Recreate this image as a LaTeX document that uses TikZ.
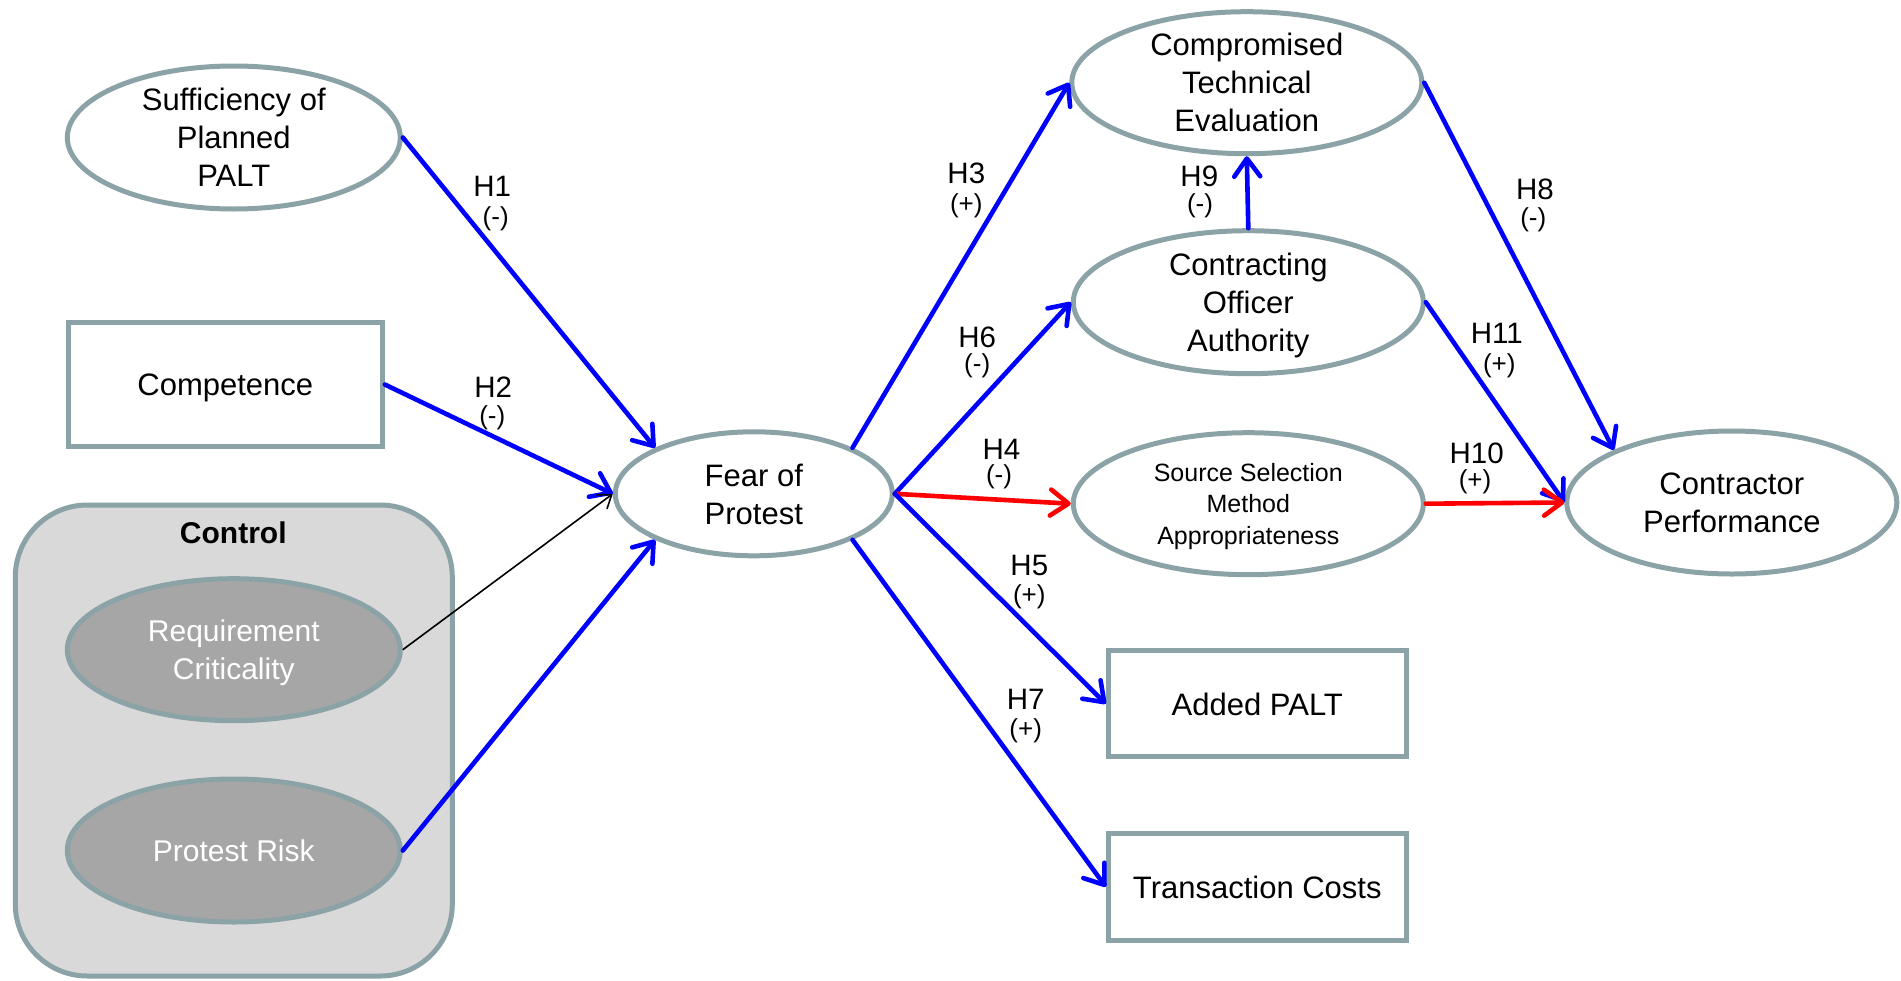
\documentclass[tikz,border=0pt]{standalone}
\usepackage{fontspec}
\setmainfont{Liberation Sans}
\usetikzlibrary{shapes.geometric,arrows.meta}
\definecolor{bordergray}{RGB}{139,163,167}
\definecolor{ctrlbg}{RGB}{217,217,217}
\definecolor{ctrlell}{RGB}{166,166,166}
\definecolor{arrblue}{RGB}{0,0,255}
\definecolor{arrred}{RGB}{255,0,0}
\begin{document}
\begin{tikzpicture}[x=1pt,y=-1pt,
  oval/.style={ellipse, draw=bordergray, line width=5pt, fill=white, inner sep=0pt},
  boxn/.style={rectangle, draw=bordergray, line width=5pt, fill=white, inner sep=0pt},
  lbl/.style={align=center, inner sep=0pt, text depth=0pt, font=\fontsize{31}{38}\selectfont},
  smalllbl/.style={align=center, inner sep=0pt, text depth=0pt, font=\fontsize{25}{31.5}\selectfont},
  ctrllbl/.style={align=center, inner sep=0pt, text depth=0pt, text=white, font=\fontsize{30}{37.6}\selectfont},
  hyp/.style={inner sep=0pt, font=\fontsize{29.5}{32}\selectfont},
  sgn/.style={inner sep=0pt, font=\fontsize{26}{30}\selectfont},
  barr/.style={draw=arrblue, line width=4.6pt, line cap=round, line join=round,
    -{Straight Barb[length=18pt,width=26pt,line cap=round,line join=round]}},
  rarr/.style={barr, draw=arrred},
  karr/.style={draw=black, line width=1.6pt,
    -{Straight Barb[length=12pt,width=17pt,line cap=round]}}
]
\useasboundingbox (0,0) rectangle (1901,980);

% Control group
\node[rectangle, draw=bordergray, line width=5pt, fill=ctrlbg, rounded corners=72pt,
  minimum width=437pt, minimum height=471pt, inner sep=0pt] (ctrl) at (233.8,740.5) {};
\node[inner sep=0pt, font=\fontsize{30}{36}\selectfont\bfseries] (ctrlt) at (233.3,532.5) {Control};
\node[oval, fill=ctrlell, minimum width=333pt, minimum height=142pt] (req) at (233.8,649.7) {};
\node[ctrllbl] (reqt) at (req.center) {Requirement\\Criticality};
\node[oval, fill=ctrlell, minimum width=333pt, minimum height=143pt] (pr) at (233.8,850.5) {};
\node[ctrllbl] (prt) at (pr.center) {Protest Risk};

% Left column
\node[oval, minimum width=333pt, minimum height=143pt] (suff) at (233.8,137.5) {};
\node[lbl] (sufft) at (suff.center) {Sufficiency of\\Planned\\PALT};
\node[boxn, minimum width=314pt, minimum height=124pt] (comp) at (225.3,384.5) {};
\node[lbl] (compt) at (comp.center) {Competence};

% Centre
\node[oval, minimum width=277pt, minimum height=124pt] (fear) at (753.8,493.8) {};
\node[lbl] (feart) at (fear.center) {Fear of\\Protest};

% Right-centre column
\node[oval, minimum width=350pt, minimum height=142pt] (cte) at (1246.8,82.7) {};
\node[lbl] (ctet) at (cte.center) {Compromised\\Technical\\Evaluation};
\node[oval, minimum width=350pt, minimum height=143pt] (coa) at (1248.3,302.2) {};
\node[lbl] (coat) at (coa.center) {Contracting\\Officer\\Authority};
\node[oval, minimum width=350pt, minimum height=142pt] (ssma) at (1248.3,503.7) {};
\node[smalllbl] (ssmat) at (ssma.center) {Source Selection\\Method\\Appropriateness};
\node[boxn, minimum width=298pt, minimum height=106pt] (added) at (1257.3,703.8) {};
\node[lbl] (addedt) at (added.center) {Added PALT};
\node[boxn, minimum width=298pt, minimum height=107pt] (trans) at (1257.3,886.8) {};
\node[lbl] (transt) at (trans.center) {Transaction Costs};

% Right
\node[oval, minimum width=330pt, minimum height=143pt] (cp) at (1731.8,502.5) {};
\node[lbl] (cpt) at (cp.center) {Contractor\\Performance};

% Connectors
\draw[barr] (suff.east) -- (fear.155);
\draw[barr] (comp.east) -- (fear.west);
\draw[karr] (req.east) -- (fear.west);
\draw[barr] (pr.east) -- (fear.205);
\draw[barr] (fear.25) -- (cte.west);
\draw[barr] (fear.east) -- (coa.west);
\draw[rarr] (fear.east) -- (ssma.west);
\draw[barr] (fear.east) -- (added.west);
\draw[barr] (fear.-25) -- (trans.west);
\draw[barr] (coa.north) -- (cte.south);
\draw[barr] (cte.east) -- (cp.156);
\draw[barr] (coa.east) -- (cp.west);
\draw[rarr] (ssma.east) -- (cp.west);

% Hypothesis labels
\node[hyp] (h1) at (492.3,186.2) {H1};   \node[sgn] (s1) at (495.7,218.7) {(-)};
\node[hyp] (h2) at (493.3,386.7) {H2};   \node[sgn] (s2) at (492.3,417.3) {(-)};
\node[hyp] (h3) at (966.3,173.4) {H3};   \node[sgn] (s3) at (966.3,206.1) {(+)};
\node[hyp] (h6) at (977.2,337.0) {H6};   \node[sgn] (s6) at (977.2,366.1) {(-)};
\node[hyp] (h4) at (1001.4,449.8) {H4};  \node[sgn] (s4) at (999.0,476.5) {(-)};
\node[hyp] (h5) at (1029.3,565.0) {H5};  \node[sgn] (s5) at (1029.3,596.5) {(+)};
\node[hyp] (h7) at (1025.7,699.5) {H7};  \node[sgn] (s7) at (1025.7,731.0) {(+)};
\node[hyp] (h9) at (1199.3,176.7) {H9};  \node[sgn] (s9) at (1200.0,206.0) {(-)};
\node[hyp] (h8) at (1535.0,189.0) {H8};  \node[sgn] (s8) at (1533.3,220.0) {(-)};
\node[hyp] (h11) at (1496.7,333.3) {H11}; \node[sgn] (s11) at (1499.3,365.7) {(+)};
\node[hyp] (h10) at (1476.7,453.3) {H10}; \node[sgn] (s10) at (1475.0,481.7) {(+)};
\end{tikzpicture}
\end{document}
